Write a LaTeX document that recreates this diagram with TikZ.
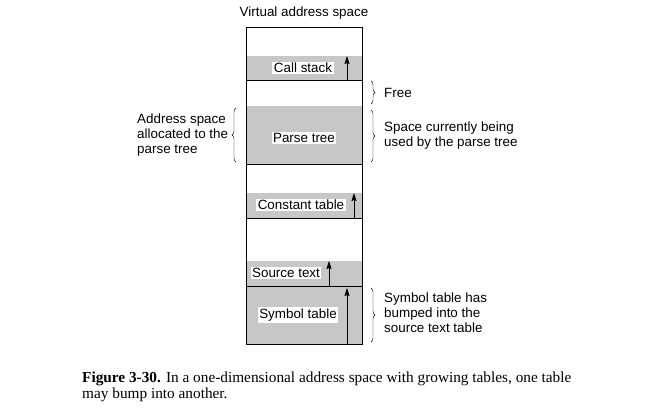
\documentclass[tikz,border=0pt]{standalone}
\usepackage{fontspec}
\setmainfont{Liberation Serif}
\setsansfont{Liberation Sans}
\usetikzlibrary{arrows.meta,decorations.pathreplacing}
\definecolor{tablegray}{gray}{0.78}
\tikzset{every node/.style={font=\sffamily\fontsize{13.4}{15}\selectfont, inner sep=0pt},
  tablelabel/.style={fill=white, inner xsep=1.5pt, inner ysep=1.5pt},
  growarrow/.style={-{Stealth[length=8pt,width=5pt,inset=1pt]}, semithick},
  sidebrace/.style={decorate, decoration={brace, amplitude=4pt}, thin},
  caption/.style={anchor=base west, font=\rmfamily\fontsize{15.3}{16}\selectfont}}

\begin{document}
\begin{tikzpicture}[x=1pt,y=-1pt]
    \useasboundingbox (0,0) rectangle (655,409);
    \node (title) at (304,13) {Virtual address space};
    % the tables
    \fill[tablegray] (246,56) rectangle (362,80);
    \fill[tablegray] (246,106) rectangle (362,164);
    \fill[tablegray] (246,193) rectangle (362,218);
    \fill[tablegray] (246,261) rectangle (362,344);
    \draw[thin] (246,27) rectangle (362,344);
    \foreach\y in {80, 164, 218, 286} \draw[semithick] (246,\y) -- (362,\y);
    % growth arrows
    \draw[growarrow] (347,80) -- (347,56);
    \draw[growarrow] (354,218) -- (354,193);
    \draw[growarrow] (329,286) -- (329,261);
    \draw[growarrow] (347,344) -- (347,288);
    \node[tablelabel] (callstack) at (303,68) {Call stack};
    \node[tablelabel] (parsetree) at (304,138) {Parse tree};
    \node[tablelabel] (consttable) at (301,205) {Constant table};
    \node[tablelabel] (sourcetext) at (286,273) {Source text};
    \node[tablelabel] (symtable) at (298,315) {Symbol table};
    % braces
    \draw[sidebrace] (236,162) -- (236,108);
    \draw[sidebrace] (371,81) -- (371,104);
    \draw[sidebrace] (371,110) -- (371,162);
    \draw[sidebrace] (371,288) -- (371,342);
    \node[anchor=west, align=left] (allocated) at (137,135) {Address space\\allocated to the\\parse tree};
    \node[anchor=west] (free) at (384,93) {Free};
    \node[anchor=west, align=left] (used) at (384,136) {Space currently being\\used by the parse tree};
    \node[anchor=west, align=left] (bumped) at (384,313) {Symbol table has\\bumped into the\\source text table};
    % caption
    \node[caption] (cap1) at (82,382) {\textbf{Figure 3-30.} In a one-dimensional address space with growing tables, one table};
    \node[caption] (cap2) at (82,398) {may bump into another.};
\end{tikzpicture}
\end{document}
